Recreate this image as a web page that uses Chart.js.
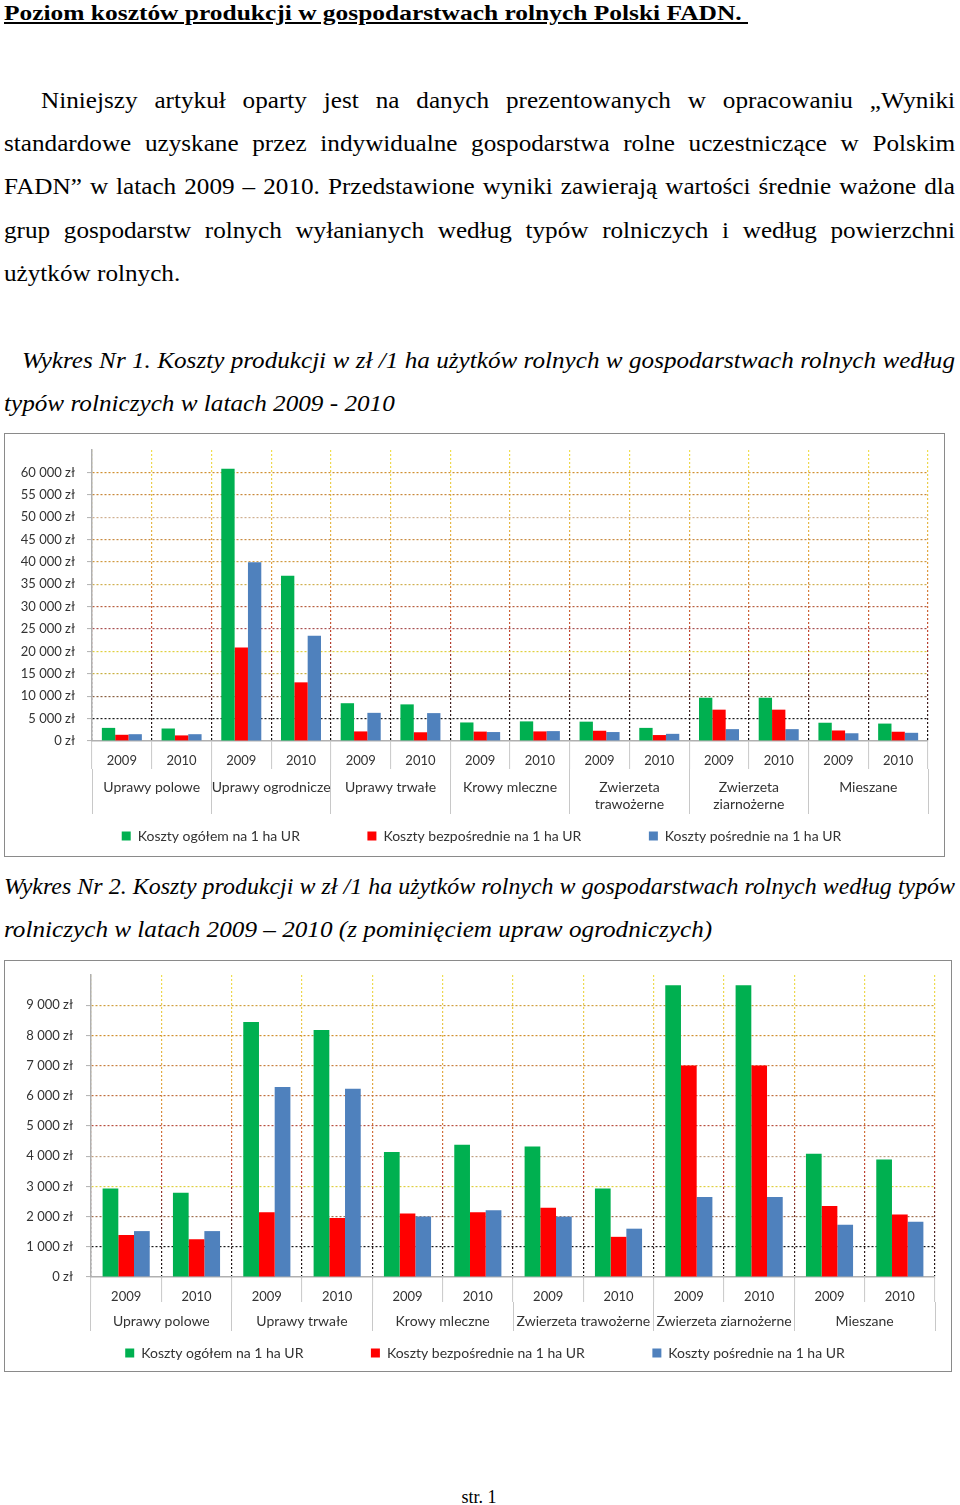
<!DOCTYPE html>
<html lang="pl">
<head>
<meta charset="UTF-8">
<title>Poziom kosztów produkcji w gospodarstwach rolnych Polski FADN</title>
<script src="https://cdn.jsdelivr.net/npm/chart.js"></script>
<style>
  body { margin: 0; background: #fff; }
  #page { position: relative; width: 960px; height: 1505px; font-family: 'Liberation Serif', 'Times New Roman', serif; color: #000; overflow: hidden; }
  /* tekst w oryginale jest lekko rozciągnięty w poziomie (skala ustawiana w fitLines) */
  .ln { position: absolute; font-size: 23px; line-height: 30px; white-space: nowrap; transform-origin: left top; }
  .j { text-align: justify; text-align-last: justify; }
  .it { font-style: italic; }
  #title { position: absolute; left: 4px; top: 0; font-size: 22px; line-height: 26px; font-weight: bold; text-decoration: underline; white-space: nowrap; transform-origin: left top; }
  .box { position: absolute; border: 1px solid #8a8a8a; background: #fff; }
  .box canvas { display: block; }
  #footer { position: absolute; left: 0; width: 958px; top: 1486px; text-align: center; font-size: 18px; line-height: 22px; }
</style>
</head>
<body>
<div id="page">
  <span id="title">Poziom kosztów produkcji w gospodarstwach rolnych Polski FADN.&nbsp;</span>

  <div class="ln j" data-w="914" style="left:41px; top:86px;">Niniejszy artykuł oparty jest na danych prezentowanych w opracowaniu „Wyniki</div>
  <div class="ln j" data-w="951" style="left:4px; top:129px;">standardowe uzyskane przez indywidualne gospodarstwa rolne uczestniczące w Polskim</div>
  <div class="ln j" data-w="951" style="left:4px; top:172px;">FADN” w latach 2009 – 2010. Przedstawione wyniki zawierają wartości średnie ważone dla</div>
  <div class="ln j" data-w="951" style="left:4px; top:216px;">grup gospodarstw rolnych wyłanianych według typów rolniczych i według powierzchni</div>
  <div class="ln" style="left:4px; top:259px;">użytków rolnych.</div>

  <div class="ln j it" data-w="933" style="left:22px; top:346px;">Wykres Nr 1. Koszty produkcji w zł /1 ha użytków rolnych w gospodarstwach rolnych według</div>
  <div class="ln it" style="left:4px; top:389px;">typów rolniczych w latach 2009 - 2010</div>

  <div class="box" style="left:4px; top:433px; width:939px; height:422px;">
    <canvas id="chart1"></canvas>
  </div>

  <div class="ln j it" data-w="951" style="left:4px; top:872px;">Wykres Nr 2. Koszty produkcji w zł /1 ha użytków rolnych w gospodarstwach rolnych według typów</div>
  <div class="ln it" style="left:4px; top:915px;">rolniczych w latach 2009 – 2010 (z pominięciem upraw ogrodniczych)</div>

  <div class="box" style="left:4px; top:960px; width:946px; height:410px;">
    <canvas id="chart2"></canvas>
  </div>

  <div id="footer">str. 1</div>
</div>

<script>
  // Dane: koszty w zł na 1 ha UR, dla każdego typu kolejno 2009 i 2010
  const years = ['2009', '2010'];
  const groups1 = ['Uprawy polowe', 'Uprawy ogrodnicze', 'Uprawy trwałe', 'Krowy mleczne',
    ['Zwierzeta', 'trawożerne'], ['Zwierzeta', 'ziarnożerne'], 'Mieszane'];
  const groups2 = ['Uprawy polowe', 'Uprawy trwałe', 'Krowy mleczne',
    'Zwierzeta trawożerne', 'Zwierzeta ziarnożerne', 'Mieszane'];
  const seriesNames = ['Koszty ogółem na 1 ha UR', 'Koszty bezpośrednie na 1 ha UR', 'Koszty pośrednie na 1 ha UR'];

  // Wykres 1 (z uprawami ogrodniczymi)
  const ogolem1 = [2930, 2790, 60800, 36900, 8440, 8180, 4140, 4380, 4320, 2930, 9660, 9660, 4080, 3890];
  const bezposrednie1 = [1390, 1250, 20900, 13100, 2140, 1950, 2100, 2140, 2290, 1330, 7000, 7000, 2350, 2070];
  const posrednie1 = [1520, 1520, 39900, 23500, 6290, 6230, 2000, 2210, 2000, 1600, 2650, 2650, 1730, 1830];

  // Wykres 2 (bez upraw ogrodniczych)
  const ogolem2 = [2930, 2790, 8440, 8180, 4140, 4380, 4320, 2930, 9660, 9660, 4080, 3890];
  const bezposrednie2 = [1390, 1250, 2140, 1950, 2100, 2140, 2290, 1330, 7000, 7000, 2350, 2070];
  const posrednie2 = [1520, 1520, 6290, 6230, 2000, 2210, 2000, 1600, 2650, 2650, 1730, 1830];

  // kolory linii siatki poziomej (od 0 w górę), jak w oryginale
  const hGrid1 = ['rgba(0,0,0,0)', '#1a1a1a', '#8a6040', '#c8b040', '#e0d040', '#a85050', '#b86040',
    '#d0b050', '#d09a40', '#c88a40', '#d0b090', '#c8883a', '#d09030', 'rgba(0,0,0,0)'];
  const hGrid2 = ['rgba(0,0,0,0)', '#1a1a1a', '#a07050', '#e0d040', '#c0a080', '#b85040', '#c07040',
    '#c88040', '#d09030', '#d0a040', 'rgba(0,0,0,0)'];
  const barColors = ['#00b050', '#ff0000', '#4f81bd'];
  const fontFamily = 'Lato, "Open Sans", sans-serif';
  const smallFont = { family: fontFamily, size: 13 };
  const labelFont = { family: fontFamily, size: 14, lineHeight: 1.2 };

  Chart.defaults.font.family = fontFamily;
  Chart.defaults.color = '#333';

  function formatZl(v) {
    return String(v).replace(/\B(?=(\d{3})+(?!\d))/g, ' ') + ' zł';
  }

  // pionowe linie siatki: od żółtego u góry do czarnego przy osi
  function verticalGradient(chart) {
    const a = chart.chartArea;
    if (!a) return '#d0a040';
    const g = chart.ctx.createLinearGradient(0, a.top, 0, a.bottom);
    g.addColorStop(0, '#f0e050');
    g.addColorStop(0.4, '#e0a040');
    g.addColorStop(0.65, '#c04030');
    g.addColorStop(0.88, '#402020');
    g.addColorStop(1, '#101010');
    return g;
  }

  function createChart(id, o) {
    const yearLabels = o.groups.flatMap(() => years);
    const data = [o.ogolem, o.bezposrednie, o.posrednie];
    new Chart(document.getElementById(id), {
      type: 'bar',
      data: {
        labels: yearLabels,
        datasets: seriesNames.map((name, i) => ({
          label: name,
          data: data[i],
          backgroundColor: barColors[i],
          borderWidth: 0,
          categoryPercentage: 0.67,
          barPercentage: 1.0
        }))
      },
      options: {
        responsive: true,
        maintainAspectRatio: false,
        animation: false,
        layout: { padding: { top: o.padTop, right: 0, bottom: o.padBottom, left: 14 } },
        plugins: {
          tooltip: { enabled: false },
          legend: {
            position: 'bottom',
            labels: {
              boxWidth: 9,
              boxHeight: 9,
              padding: 15,
              font: labelFont,
              color: '#333',
              // szerokie odstępy między pozycjami legendy
              generateLabels: (chart) => {
                const items = Chart.defaults.plugins.legend.labels.generateLabels(chart);
                items.forEach((it, i) => {
                  if (i < items.length - 1) it.text += '\u2003'.repeat(5);
                });
                return items;
              }
            }
          }
        },
        scales: {
          x: {
            offset: true,
            grid: {
              offset: true,
              color: (c) => verticalGradient(c.chart),
              lineWidth: 1.2,
              tickLength: o.yearAxisH,
              tickColor: '#c8c8c8',
              tickWidth: 1
            },
            border: { display: true, color: '#b0b0b0', width: 1.5, dash: [2, 2] },
            ticks: { font: smallFont, color: '#333', padding: o.yearPad, autoSkip: false, maxRotation: 0 },
            afterFit: (s) => {
              s.height = o.yearAxisH;
              s.paddingRight = 16; // odstęp wykresu od prawej krawędzi ramki
            }
          },
          x2: {
            type: 'category',
            position: 'bottom',
            labels: o.groups,
            offset: true,
            grid: {
              offset: true,
              drawOnChartArea: false,
              tickLength: o.groupAxisH,
              tickColor: '#c8c8c8',
              tickWidth: 1
            },
            border: { display: false },
            ticks: { font: labelFont, color: '#333', padding: o.groupPad, autoSkip: false, maxRotation: 0 },
            afterFit: (s) => { s.height = o.groupAxisH; }
          },
          y: {
            min: 0,
            max: o.yMax,
            ticks: {
              stepSize: o.yStep,
              font: smallFont,
              color: '#333',
              padding: o.yPad,
              callback: (v) => (v > o.yLastLabel ? null : formatZl(v))
            },
            grid: {
              color: (c) => o.hGrid[c.index] || 'rgba(0,0,0,0)',
              lineWidth: 1.2,
              tickLength: 5,
              tickColor: '#b0b0b0',
              tickWidth: 1
            },
            border: { display: true, color: '#b0b0b0', width: 1.5, dash: [2, 2] },
            afterFit: (s) => {
              s.width = o.yAxisW;
              s.paddingTop = 0;
              s.paddingBottom = 0;
            }
          }
        }
      }
    });
  }

  function fitTitle() {
    const t = document.getElementById('title');
    const w = t.getBoundingClientRect().width;
    t.style.transform = 'scaleX(' + (744 / w) + ')';
  }

  // rozciągnięcie wierszy tekstu; wiersze wyjustowane nie mogą wyjść poza docelową szerokość
  function fitLines() {
    document.querySelectorAll('.ln').forEach((el) => {
      const natural = el.offsetWidth;
      const target = Number(el.dataset.w || 0);
      let scale = 1.095;
      if (target) {
        scale = Math.min(scale, (target - 2) / natural);
        el.style.width = (target / scale) + 'px';
      }
      el.style.transform = 'scaleX(' + scale + ')';
    });
  }

  document.addEventListener('DOMContentLoaded', () => {
    fitTitle();
    fitLines();
    createChart('chart1', {
      groups: groups1, ogolem: ogolem1, bezposrednie: bezposrednie1, posrednie: posrednie1,
      yMax: 65000, yStep: 5000, yLastLabel: 60000, hGrid: hGrid1,
      padTop: 16, padBottom: 3, yAxisW: 73, yPad: 12,
      yearAxisH: 28, yearPad: -16, groupAxisH: 45, groupPad: -35
    });
    createChart('chart2', {
      groups: groups2, ogolem: ogolem2, bezposrednie: bezposrednie2, posrednie: posrednie2,
      yMax: 10000, yStep: 1000, yLastLabel: 9000, hGrid: hGrid2,
      padTop: 14, padBottom: 1, yAxisW: 72, yPad: 13,
      yearAxisH: 25, yearPad: -13, groupAxisH: 29, groupPad: -18
    });
  });
</script>
</body>
</html>
